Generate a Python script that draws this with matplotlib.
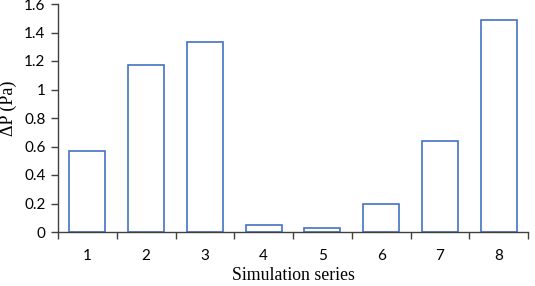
import numpy as np
import matplotlib.pyplot as plt
from matplotlib.ticker import FixedLocator

# data
series = ["1", "2", "3", "4", "5", "6", "7", "8"]
delta_p = [0.57, 1.17, 1.33, 0.05, 0.03, 0.20, 0.64, 1.49]
y_ticks = [0, 0.2, 0.4, 0.6, 0.8, 1, 1.2, 1.4, 1.6]
y_tick_labels = ["0", "0.2", "0.4", "0.6", "0.8", "1", "1.2", "1.4", "1.6"]

fig = plt.figure(figsize=(5.35, 2.86), dpi=100)
ax = fig.add_axes([58 / 535, 1 - 232 / 286, 470 / 535, 228 / 286])

x = np.arange(1, len(series) + 1)
ax.bar(x, delta_p, width=0.61, facecolor="white", edgecolor="#4472C4",
       linewidth=1.2, zorder=2)

ax.set_xlim(0.5, len(series) + 0.5)
ax.set_ylim(0, 1.6)

ax.set_yticks(y_ticks)
ax.set_yticklabels(y_tick_labels, fontsize=11, family="Lato")
ax.set_xticks(x)
ax.set_xticklabels(series, fontsize=11, family="Lato")
ax.xaxis.set_minor_locator(FixedLocator(np.arange(0.5, len(series) + 1, 1)))

ax.tick_params(axis="x", which="major", length=0, pad=12)
ax.tick_params(axis="x", which="minor", length=5, width=1, color="#404040", direction="out")
ax.tick_params(axis="y", length=5, width=1, color="#404040", direction="out", pad=4)

for side in ["top", "right"]:
    ax.spines[side].set_visible(False)
for side in ["left", "bottom"]:
    ax.spines[side].set_color("#404040")
    ax.spines[side].set_linewidth(1.0)
    ax.spines[side].set_zorder(3)

ax.set_xlabel("Simulation series", fontsize=12.8, family="Liberation Serif")
ax.set_ylabel("ΔP (Pa)", fontsize=13, family="Liberation Serif",
              va="center", ha="center")
ax.xaxis.set_label_coords(0.5, -0.152)
ax.yaxis.set_label_coords(-0.105, 0.542)

fig.savefig("out.png", dpi=100)
